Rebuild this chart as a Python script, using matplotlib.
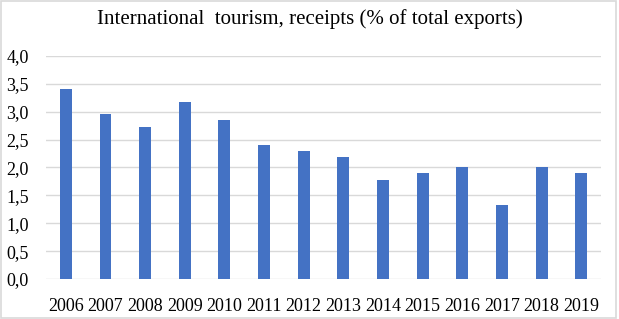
import matplotlib
matplotlib.use('Agg')
import matplotlib.pyplot as plt
from matplotlib.ticker import FuncFormatter, MultipleLocator
from matplotlib.patches import Rectangle

years = ['2006', '2007', '2008', '2009', '2010', '2011', '2012',
         '2013', '2014', '2015', '2016', '2017', '2018', '2019']
receipts = [3.41, 2.96, 2.73, 3.17, 2.85, 2.40, 2.30,
            2.19, 1.78, 1.90, 2.01, 1.33, 2.01, 1.90]

plt.rcParams['font.family'] = ['Liberation Serif', 'DejaVu Serif']

fig = plt.figure(figsize=(6.19, 3.19), dpi=100)
ax = fig.add_axes([0.0743, 0.1254, 0.8967, 0.6991])

x = range(len(years))
ax.bar(x, receipts, width=0.3, color='#4472C4', zorder=3)

ax.set_xlim(-0.5, len(years) - 0.5)
ax.set_ylim(0, 4.0)
ax.yaxis.set_major_locator(MultipleLocator(0.5))
ax.yaxis.set_major_formatter(FuncFormatter(lambda v, p: ('%.1f' % v).replace('.', ',')))
ax.set_xticks(list(x))
ax.set_xticklabels(years)
ax.tick_params(axis='both', length=0, labelsize=13, colors='black')
ax.tick_params(axis='x', pad=13.5)
ax.tick_params(axis='y', pad=12.5)
ax.grid(axis='y', color='#D9D9D9', linewidth=1, zorder=0)
for s in ax.spines.values():
    s.set_visible(False)

fig.text(0.5, 0.94, 'International  tourism, receipts (% of total exports)',
         ha='center', va='center', fontsize=15)

fig.patches.append(Rectangle((0.002, 0.003), 0.993, 0.993, transform=fig.transFigure,
                             fill=False, edgecolor='#D9D9D9', linewidth=1.2))

fig.savefig('out.png', dpi=100)
